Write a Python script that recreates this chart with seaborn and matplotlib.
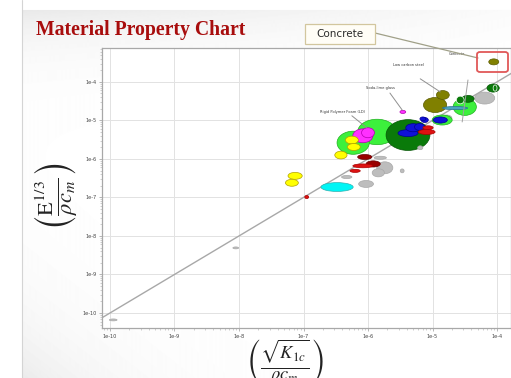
import numpy as np
import pandas as pd
import matplotlib
matplotlib.use('Agg')
import matplotlib.pyplot as plt
from matplotlib.patches import Ellipse, Rectangle, FancyBboxPatch
from matplotlib.lines import Line2D
import seaborn as sns

# ticks (log10 of the property index)
tick_exp = [-10, -9, -8, -7, -6, -5, -4]
tick_labels = ['1e-10', '1e-9', '1e-8', '1e-7', '1e-6', '1e-5', '1e-4']

# material bubbles: family, centre (log10) and spread (decades)
family = ['gray', 'gray', 'red', 'yellow', 'yellow', 'cyan', 'gray', 'gray',
          'gray', 'gray', 'gray', 'red', 'lime', 'lime', 'dkgreen', 'gray',
          'blue', 'blue', 'blue', 'blue', 'red', 'red', 'magenta', 'magenta',
          'yellow', 'yellow', 'yellow', 'dkred', 'gray', 'dkred', 'red',
          'magenta', 'blue', 'gray', 'lime', 'blue', 'olive', 'olive', 'gray',
          'lime', 'dkgreen', 'hollow', 'teal', 'dkgreen', 'hollow', 'olive']
x_log = [-9.95, -8.05, -6.95, -7.13, -7.18, -6.48, -6.03, -6.33,
         -5.74, -5.84, -5.47, -6.20, -5.86, -6.23, -5.38, -5.19,
         -5.38, -5.30, -5.20, -5.12, -5.07, -5.09, -6.08, -6.00,
         -6.25, -6.22, -6.42, -6.05, -5.81, -5.92, -6.08,
         -5.46, -5.15, -4.78, -4.85, -4.88, -4.96, -4.84, -4.19,
         -4.50, -4.45, -4.57, -4.65, -4.06, -4.03, -4.05]
y_log = [-10.18, -8.31, -6.99, -6.44, -6.62, -6.73, -6.65, -6.47,
         -6.23, -6.36, -6.31, -6.31, -5.30, -5.58, -5.38, -5.71,
         -5.33, -5.19, -5.17, -4.99, -5.19, -5.30, -5.40, -5.32,
         -5.51, -5.69, -5.90, -5.95, -5.97, -6.13, -6.18,
         -4.78, -4.96, -4.94, -4.99, -4.99, -4.60, -4.34, -4.42,
         -4.65, -4.44, -4.47, -4.68, -4.16, -4.16, -3.48]
x_dec = [0.12, 0.09, 0.06, 0.22, 0.20, 0.50, 0.23, 0.16,
         0.25, 0.19, 0.06, 0.16, 0.60, 0.50, 0.68, 0.08,
         0.31, 0.23, 0.16, 0.11, 0.16, 0.26, 0.31, 0.20,
         0.20, 0.20, 0.19, 0.22, 0.19, 0.22, 0.31,
         0.09, 0.09, 0.16, 0.31, 0.22, 0.36, 0.20, 0.31,
         0.36, 0.19, 0.12, 0.39, 0.19, 0.06, 0.155]
y_dec = [0.05, 0.05, 0.08, 0.18, 0.18, 0.23, 0.18, 0.08,
         0.31, 0.21, 0.10, 0.08, 0.66, 0.60, 0.80, 0.10,
         0.18, 0.21, 0.18, 0.13, 0.10, 0.13, 0.36, 0.26,
         0.20, 0.18, 0.20, 0.13, 0.08, 0.16, 0.10,
         0.08, 0.10, 0.16, 0.26, 0.16, 0.39, 0.23, 0.31,
         0.44, 0.18, 0.20, 0.08, 0.21, 0.16, 0.156]

# labelled materials
label_names = ['Low carbon steel', 'Soda-lime glass', 'Rigid Polymer Foam (LD)', 'Concrete']
label_x = [-5.38, -5.81, -6.40, -4.62]
label_y = [-3.56, -4.16, -4.78, -3.27]

fill = {'gray': '#bdbdbd', 'red': '#dd1111', 'yellow': '#ffff00', 'cyan': '#00f5f5',
        'lime': '#3cf03c', 'dkgreen': '#0a7a0a', 'blue': '#1010d8',
        'magenta': '#ff30ff', 'dkred': '#990000', 'olive': '#808000',
        'hollow': '#0a7a0a', 'teal': '#4aa3c0'}
edge = {'gray': '#a8a8a8', 'red': '#aa0000', 'yellow': '#b0a000', 'cyan': '#30b0b0',
        'lime': '#20b020', 'dkgreen': '#055505', 'blue': '#000090',
        'magenta': '#b000b0', 'dkred': '#660000', 'olive': '#5a5a00',
        'hollow': '#ffffff', 'teal': '#2a7090'}

df = pd.DataFrame({'family': family, 'x': x_log, 'y': y_log, 'w': x_dec, 'h': y_dec})

sns.set_style('white')
plt.rcParams['mathtext.fontset'] = 'stix'

fig = plt.figure(figsize=(5.11, 3.78), dpi=100)

# slide background
bg = fig.add_axes([0, 0, 1, 1], zorder=-5)
rows, cols = np.mgrid[0:378, 0:511]
shade = 1 - 0.09 * np.exp(-(rows - 10) / 35.0) * (1 - 0.8 * cols / 511)
shade -= 0.08 * np.exp(-((378 - rows) / 70.0 + (cols - 22) / 90.0))
shade[:, :22] = 1.0
shade[:10, :] = 1.0
bg.imshow(shade, cmap='gray', vmin=0, vmax=1, aspect='auto', extent=[0, 1, 0, 1])
bg.axvline(22 / 511, color='#d4d4d4', lw=0.8)
bg.axis('off')

ax = fig.add_axes([102 / 511, 1 - 328 / 378, 1 - 102 / 511, 280 / 378])
ax.set_facecolor('white')

# y = x guide line
guide = pd.DataFrame({'x': [-10.2, -3.7], 'y': [-10.2, -3.7]})
sns.lineplot(data=guide, x='x', y='y', color='#a8a8a8', lw=1.0, ax=ax, zorder=1)

for _, r in df.iterrows():
    ax.add_patch(Ellipse((r['x'], r['y']), r['w'], r['h'],
                         facecolor=fill[r['family']], edgecolor=edge[r['family']],
                         lw=0.5, zorder=2))

# leader lines
ax.plot([-5.19, -4.88], [-3.92, -4.26], color='#909090', lw=0.7, zorder=3)
ax.plot([-5.66, -5.47], [-4.29, -4.73], color='#909090', lw=0.7, zorder=3)
ax.plot([-6.25, -6.02], [-4.88, -5.19], color='#909090', lw=0.7, zorder=3)
ax.plot([-4.45, -4.54], [-3.95, -5.04], color='#a0a0a0', lw=0.7, zorder=3)
for name, lx, ly in zip(label_names, label_x, label_y):
    ax.text(lx, ly, name, fontsize=2.6, ha='center', va='center', color='#333333', zorder=4)

ax.set_xticks(tick_exp)
ax.set_xticklabels(tick_labels)
ax.set_yticks(tick_exp)
ax.set_yticklabels(tick_labels)
minor = [e + np.log10(k) for e in range(-11, -3) for k in range(2, 10)]
ax.set_xticks(minor, minor=True)
ax.set_yticks(minor, minor=True)
ax.tick_params(which='major', labelsize=3.6, labelcolor='#444444', length=2.5,
               width=0.5, color='#999999', pad=1.5, left=True, bottom=True)
ax.tick_params(which='minor', length=1.2, width=0.4, color='#aaaaaa', left=True, bottom=True)
ax.grid(True, which='major', color='#e2e2e2', lw=0.7)
ax.set_axisbelow(True)
for s in ax.spines.values():
    s.set_color('#a8a8a8')
    s.set_linewidth(0.9)
ax.set_xlabel('')
ax.set_ylabel('')
ax.set_xlim(-10.124, -3.783)
ax.set_ylim(-10.39, -3.12)

# slide title and axis formulas
fig.text(36 / 511, 1 - 30 / 378, 'Material Property Chart', family='Liberation Serif',
         weight='bold', fontsize=14.2, color='#a80d0d', ha='left', va='center')
fig.text(56 / 511, 1 - 197 / 378, r'$\left(\frac{\mathrm{E}^{1/3}}{\rho c_m}\right)$',
         rotation=90, fontsize=23, ha='center', va='center', color='#222222')
fig.text(285 / 511, 1 - 362 / 378, r'$\left(\frac{\sqrt{K_{1c}}}{\rho c_m}\right)$',
         fontsize=19, ha='center', va='center', color='#222222')

# concrete callout
fig.patches.append(Rectangle((305 / 511, 1 - 44 / 378), 70 / 511, 20 / 378,
                             transform=fig.transFigure, facecolor='#fffdf6',
                             edgecolor='#d2c69e', lw=0.9, zorder=5))
fig.text(340 / 511, 1 - 34 / 378, 'Concrete', fontsize=7.5, ha='center', va='center',
         color='#2a2a2a', zorder=6)
fig.lines.append(Line2D([375 / 511, 478 / 511], [1 - 33 / 378, 1 - 58 / 378],
                        transform=fig.transFigure, color='#a0a088', lw=0.9, zorder=5))
fig.patches.append(FancyBboxPatch((477 / 511, 1 - 72 / 378), 31 / 511, 20 / 378,
                                  boxstyle='round,pad=0,rounding_size=0.006',
                                  transform=fig.transFigure, facecolor='none',
                                  edgecolor='#e05858', lw=1.3, zorder=5))

plt.savefig('out.png', dpi=100)
